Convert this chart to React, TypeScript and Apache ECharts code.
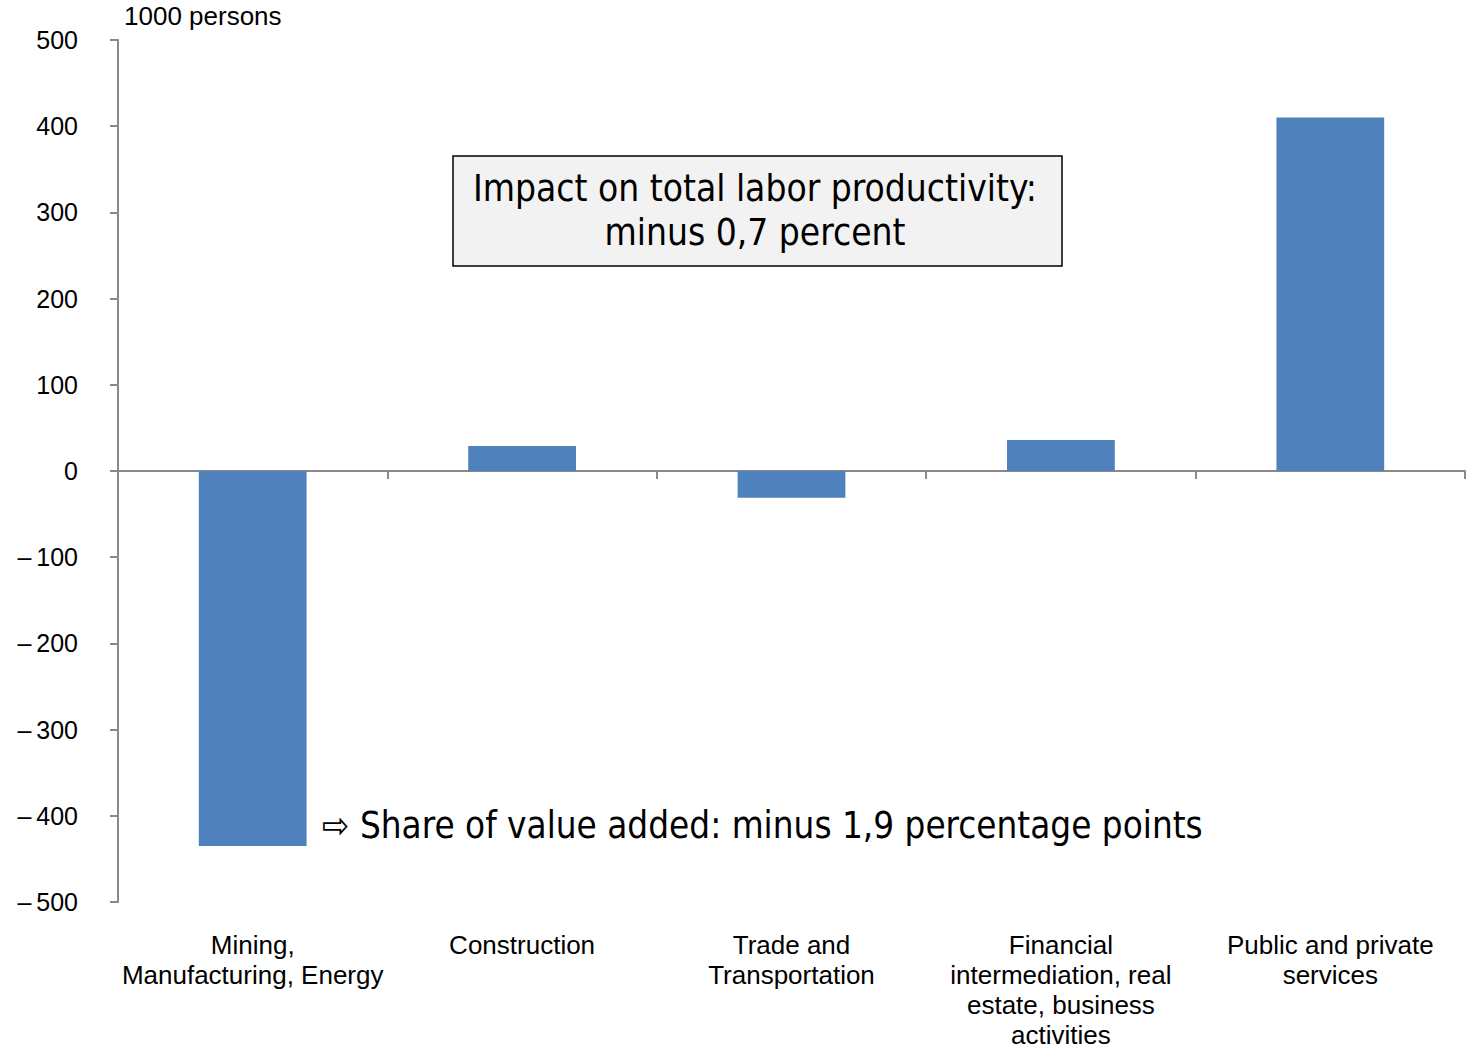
import React, { useEffect, useRef } from "react";
import * as echarts from "echarts";

const categories = [
  "Mining,\nManufacturing, Energy",
  "Construction",
  "Trade and\nTransportation",
  "Financial\nintermediation, real\nestate, business\nactivities",
  "Public and private\nservices",
];
const values = [-435, 29, -31, 36, 410];
const yTicks = { min: -500, max: 500, interval: 100 };
const unitLabel = "1000 persons";
const boxLines = ["Impact on total labor productivity:", "minus 0,7 percent"];
const noteText = "\u21E8 Share of value added: minus 1,9 percentage points";

const AXIS_COLOR = "#898989";
const BAR_COLOR = "#4f81bd";
const SANS = "Liberation Sans, Arial, sans-serif";
const TAHOMA = "DejaVu Sans Condensed, DejaVu Sans, sans-serif";

export default function App() {
  const ref = useRef<HTMLDivElement>(null);
  useEffect(() => {
    if (!ref.current) return;
    const chart = echarts.init(ref.current, null, { renderer: "svg" });
    chart.setOption({
      animation: false,
      grid: { left: 118, right: 3, top: 40, bottom: 145, containLabel: false },
      xAxis: [
        {
          type: "category",
          data: categories,
          axisLine: { onZero: true, lineStyle: { color: AXIS_COLOR, width: 2 } },
          axisTick: { show: true, length: 8, inside: false, lineStyle: { color: AXIS_COLOR, width: 2 } },
          axisLabel: { show: false },
        },
        {
          type: "category",
          data: categories,
          position: "bottom",
          axisLine: { show: false },
          axisTick: { show: false },
          axisLabel: {
            show: true,
            interval: 0,
            margin: 28,
            color: "#000",
            fontFamily: SANS,
            fontSize: 26,
            lineHeight: 30,
          },
        },
      ],
      yAxis: {
        type: "value",
        min: yTicks.min,
        max: yTicks.max,
        interval: yTicks.interval,
        splitLine: { show: false },
        axisLine: { show: true, onZero: false, lineStyle: { color: AXIS_COLOR, width: 2 } },
        axisTick: { show: true, length: 8, lineStyle: { color: AXIS_COLOR, width: 2 } },
        axisLabel: {
          margin: 40,
          color: "#000",
          fontFamily: SANS,
          fontSize: 25,
          formatter: (v: number) => (v < 0 ? "\u2013\u2009" + Math.abs(v) : String(v)),
        },
      },
      series: [
        {
          type: "bar",
          xAxisIndex: 0,
          data: values,
          barWidth: "40%",
          itemStyle: { color: BAR_COLOR },
        },
      ],
      graphic: [
        {
          type: "text",
          left: 124,
          top: 3,
          style: { text: unitLabel, font: `26px ${SANS}`, fill: "#000" },
        },
        {
          type: "rect",
          shape: { x: 453, y: 156, width: 609, height: 110 },
          style: { fill: "#f2f2f2", stroke: "#000", lineWidth: 1.5 },
        },
        {
          type: "text",
          x: 755,
          y: 210,
          style: {
            text: boxLines.join("\n"),
            font: `36.8px ${TAHOMA}`,
            fill: "#000",
            align: "center",
            verticalAlign: "middle",
            lineHeight: 44,
          },
        },
        {
          type: "text",
          x: 322,
          y: 825,
          style: {
            text: noteText,
            font: `36.5px ${TAHOMA}`,
            fill: "#000",
            align: "left",
            verticalAlign: "middle",
          },
        },
      ],
    });
    return () => chart.dispose();
  }, []);
  return (
    <div
      ref={ref}
      style={{ position: "fixed", left: 0, top: 0, width: 1468, height: 1050, background: "#fff" }}
    />
  );
}
